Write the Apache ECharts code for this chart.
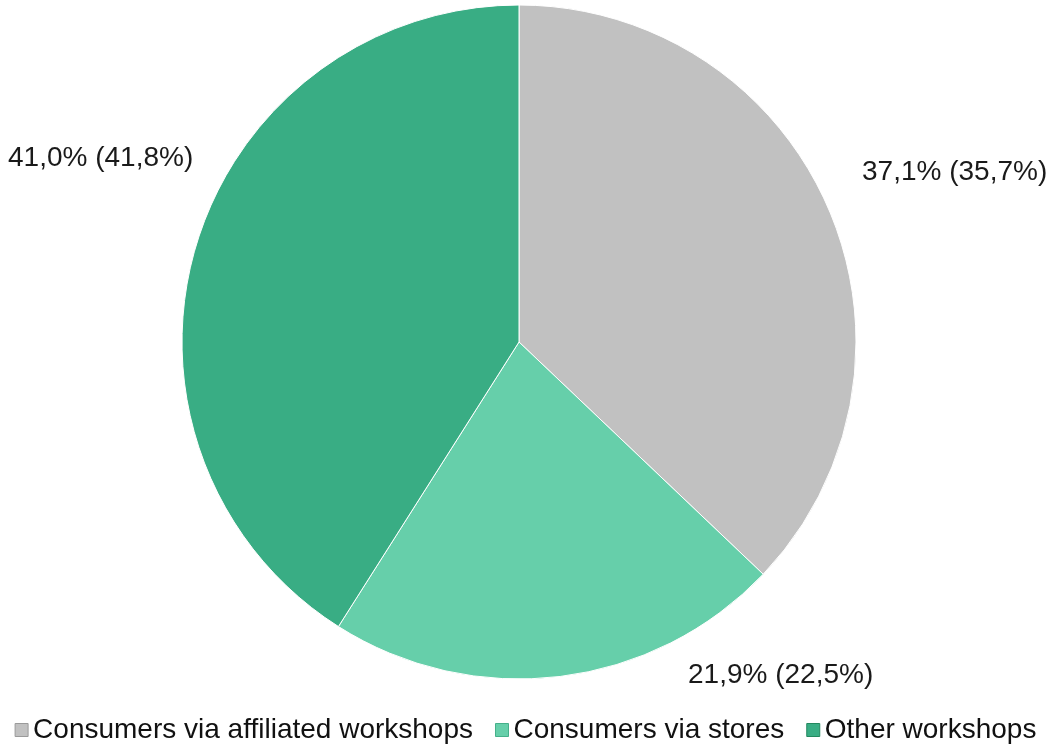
<!DOCTYPE html>
<html>
<head>
<meta charset="utf-8">
<script src="https://cdn.jsdelivr.net/npm/echarts@6/dist/echarts.min.js"></script>
<style>
  html, body { margin: 0; padding: 0; background: #ffffff; }
  #chart { width: 1051px; height: 749px; }
</style>
</head>
<body>
<div id="chart"></div>
<script>
// Sales channel shares (current year, previous year in brackets)
const categories = ['Consumers via affiliated workshops', 'Consumers via stores', 'Other workshops'];
const shareCurrent = [37.1, 21.9, 41.0];
const sharePrevious = [35.7, 22.5, 41.8];
const sliceColors = ['#c1c1c1', '#66cfaa', '#39ad84'];
const iconBorders = ['#9a9a9a', '#45b08a', '#23885f'];

const fmt = v => v.toFixed(1).replace('.', ',') + '%';

const data = categories.map((name, i) => ({
  name: name,
  value: shareCurrent[i],
  itemStyle: { color: sliceColors[i] }
}));

// Label anchor points beside the pie (left edge x, middle y)
const labelSpots = [
  { x: 862, y: 172 },
  { x: 688, y: 675 },
  { x: 8, y: 158 }
];

const chart = echarts.init(document.getElementById('chart'), null, { renderer: 'canvas' });
chart.setOption({
  animation: false,
  backgroundColor: '#ffffff',
  legend: {
    top: 711,
    left: 'center',
    icon: 'rect',
    itemWidth: 13,
    itemHeight: 13,
    itemGap: 22,
    data: categories.map((name, i) => ({
      name: name,
      itemStyle: { borderColor: iconBorders[i], borderWidth: 1 }
    })),
    textStyle: {
      fontFamily: 'Liberation Sans, Arial, sans-serif',
      fontSize: 28,
      color: '#111111'
    }
  },
  series: [{
    type: 'pie',
    center: [519, 342],
    radius: 337,
    startAngle: 90,
    clockwise: true,
    itemStyle: { borderColor: '#ffffff', borderWidth: 1 },
    label: {
      show: true,
      position: 'outside',
      overflow: 'none',
      width: 260,
      fontFamily: 'Liberation Sans, Arial, sans-serif',
      fontSize: 28,
      color: '#1a1a1a',
      formatter: p => fmt(shareCurrent[p.dataIndex]) + ' (' + fmt(sharePrevious[p.dataIndex]) + ')'
    },
    labelLine: { show: false },
    labelLayout: p => ({
      x: labelSpots[p.dataIndex].x,
      y: labelSpots[p.dataIndex].y,
      align: 'left',
      verticalAlign: 'middle'
    }),
    emphasis: { disabled: true },
    data: data
  }]
});
</script>
</body>
</html>
